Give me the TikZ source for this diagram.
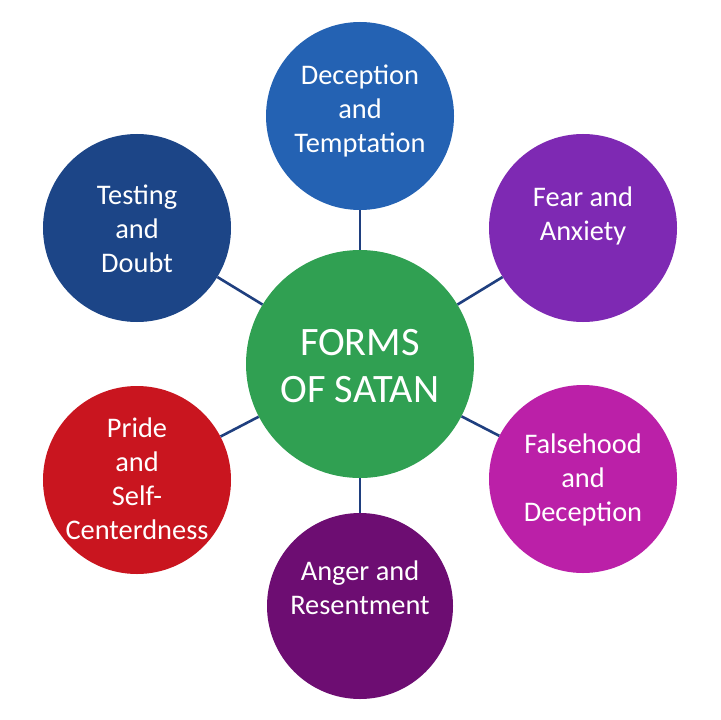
\documentclass[tikz,border=0pt]{standalone}
\usepackage{fontspec}
\setmainfont{Carlito}
\definecolor{cblue}{HTML}{2462B3}
\definecolor{cnavy}{HTML}{1C4587}
\definecolor{cviolet}{HTML}{7E29B3}
\definecolor{cmagenta}{HTML}{BB20A8}
\definecolor{cplum}{HTML}{6D0D72}
\definecolor{cred}{HTML}{C9151F}
\definecolor{cgreen}{HTML}{30A052}
\definecolor{cline}{HTML}{1F3F7F}
\begin{document}
\begin{tikzpicture}[x=1bp,y=-1bp,
  bubble/.style={circle,minimum size=188bp,inner sep=0pt},
  hub/.style={circle,minimum size=228bp,inner sep=0pt,fill=cgreen},
  lbl/.style={text=white,align=center,font=\fontsize{28.5}{34}\selectfont},
  hublbl/.style={text=white,align=center,font=\fontsize{40.5}{48}\selectfont},
  link/.style={draw=cline,line width=2.6bp}]
\useasboundingbox[fill=white] (0,0) rectangle (720,720);
\node[hub] (c) at (360,364) {};
\node[bubble,fill=cblue] (top) at (360,116) {};
\node[bubble,fill=cviolet] (fear) at (583,228) {};
\node[bubble,fill=cmagenta] (fals) at (583,479) {};
\node[bubble,fill=cplum,minimum size=186bp] (anger) at (360,606) {};
\node[bubble,fill=cred] (pride) at (137,480) {};
\node[bubble,fill=cnavy] (test) at (137,228) {};
\foreach \n in {top,fear,fals,anger,pride,test}{\draw[link] (c) -- (\n);}
\node[hublbl] (tc) at (360,366) {FORMS\\OF SATAN};
\node[lbl] (t1) at (360,111) {Deception\\and\\Temptation};
\node[lbl] (t2) at (583,216) {Fear and\\Anxiety};
\node[lbl] (t3) at (583,480) {Falsehood\\and\\Deception};
\node[lbl] (t4) at (360,588) {Anger and\\Resentment};
\node[lbl] (t5) at (137,479) {Pride\\and\\Self-\\Centerdness};
\node[lbl] (t6) at (137,229) {Testing\\and\\Doubt};
\end{tikzpicture}
\end{document}
